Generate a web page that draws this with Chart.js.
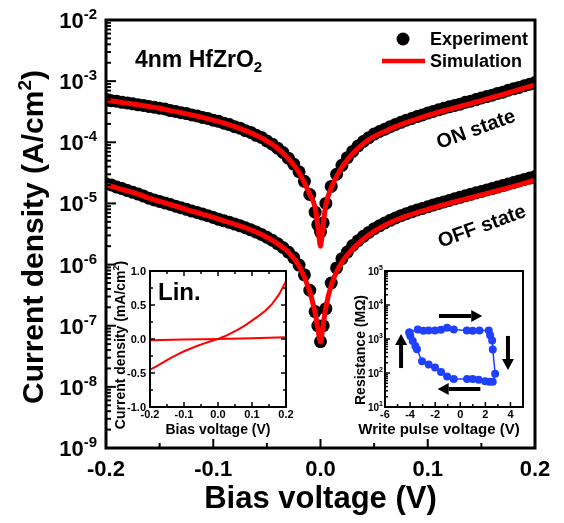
<!DOCTYPE html>
<html>
<head>
<meta charset="utf-8">
<script src="https://cdn.jsdelivr.net/npm/chart.js@4.4.1/dist/chart.umd.min.js"></script>
<style>
  html, body { margin: 0; padding: 0; background: #fff; }
  #wrap { position: relative; width: 564px; height: 523px; }
  #wrap canvas { position: absolute; }
</style>
</head>
<body>
<div id="wrap">
  <canvas id="main" width="564" height="523" style="left:0;top:0"></canvas>
  <canvas id="lin" width="210" height="195" style="left:90px;top:255px"></canvas>
  <canvas id="res" width="224" height="195" style="left:340px;top:255px"></canvas>
</div>
<script>
// J-V sweep, simulated curves (V, A/cm2)
const biasSim = [-0.2, -0.19, -0.18, -0.17, -0.16, -0.15, -0.14, -0.13, -0.12, -0.11, -0.1,
  -0.09, -0.08, -0.07, -0.06, -0.05, -0.04, -0.03, -0.02, -0.01, -0.005, -0.002, 0,
  0.002, 0.005, 0.01, 0.02, 0.03, 0.04, 0.05, 0.06, 0.07, 0.08, 0.09, 0.1,
  0.11, 0.12, 0.13, 0.14, 0.15, 0.16, 0.17, 0.18, 0.19, 0.2];
const onSim = [4.9e-4, 4.6e-4, 4.35e-4, 4.1e-4, 3.85e-4, 3.6e-4, 3.3e-4, 3.05e-4, 2.8e-4, 2.55e-4, 2.3e-4,
  2.05e-4, 1.8e-4, 1.55e-4, 1.3e-4, 1.05e-4, 8.0e-5, 5.4e-5, 3.2e-5, 1.4e-5, 8.5e-6, 3.6e-6, 2.0e-6,
  3.8e-6, 9.5e-6, 1.8e-5, 3.9e-5, 6.5e-5, 9.5e-5, 1.25e-4, 1.5e-4, 1.8e-4, 2.1e-4, 2.4e-4, 2.75e-4,
  3.1e-4, 3.45e-4, 3.85e-4, 4.3e-4, 4.8e-4, 5.4e-4, 6.05e-4, 6.8e-4, 7.7e-4, 8.7e-4];
const offSim = [2.0e-5, 1.8e-5, 1.6e-5, 1.42e-5, 1.22e-5, 1.08e-5, 9.6e-6, 8.5e-6, 7.5e-6, 6.7e-6, 5.9e-6,
  5.2e-6, 4.6e-6, 4.0e-6, 3.4e-6, 2.8e-6, 2.2e-6, 1.6e-6, 9.5e-7, 3.6e-7, 1.6e-7, 8.0e-8, 5.4e-8,
  9.0e-8, 2.0e-7, 4.6e-7, 1.1e-6, 1.8e-6, 2.6e-6, 3.5e-6, 4.4e-6, 5.3e-6, 6.2e-6, 7.1e-6, 8.0e-6,
  9.0e-6, 1.0e-5, 1.12e-5, 1.24e-5, 1.38e-5, 1.53e-5, 1.7e-5, 1.9e-5, 2.13e-5, 2.4e-5];

// measured points
const biasExp = [-0.2, -0.195, -0.19, -0.185, -0.18, -0.175, -0.17, -0.165, -0.16, -0.155,
  -0.15, -0.145, -0.14, -0.135, -0.13, -0.125, -0.12, -0.115, -0.11, -0.105,
  -0.1, -0.095, -0.09, -0.085, -0.08, -0.075, -0.07, -0.065, -0.06, -0.055,
  -0.05, -0.045, -0.04, -0.035, -0.03, -0.025, -0.02, -0.015, -0.01, -0.005,
  -0.0025, 0, 0.0025,
  0.005, 0.01, 0.015, 0.02, 0.025, 0.03, 0.035, 0.04, 0.045, 0.05,
  0.055, 0.06, 0.065, 0.07, 0.075, 0.08, 0.085, 0.09, 0.095, 0.1,
  0.105, 0.11, 0.115, 0.12, 0.125, 0.13, 0.135, 0.14, 0.145, 0.15,
  0.155, 0.16, 0.165, 0.17, 0.175, 0.18, 0.185, 0.19, 0.195, 0.2];
const onExp = [5.0e-4, 4.8e-4, 4.7e-4, 4.5e-4, 4.4e-4, 4.25e-4, 4.1e-4, 4.0e-4, 3.85e-4, 3.75e-4,
  3.6e-4, 3.5e-4, 3.3e-4, 3.2e-4, 3.05e-4, 2.95e-4, 2.8e-4, 2.7e-4, 2.55e-4, 2.45e-4,
  2.3e-4, 2.2e-4, 2.05e-4, 1.95e-4, 1.8e-4, 1.7e-4, 1.55e-4, 1.45e-4, 1.3e-4, 1.2e-4,
  1.05e-4, 9.3e-5, 8.0e-5, 6.8e-5, 5.5e-5, 4.4e-5, 3.3e-5, 2.3e-5, 1.4e-5, 7.2e-6,
  4.5e-6, 3.4e-6, 4.8e-6,
  1.0e-5, 1.9e-5, 3.0e-5, 4.2e-5, 5.6e-5, 7.1e-5, 8.7e-5, 1.03e-4, 1.19e-4, 1.36e-4,
  1.5e-4, 1.64e-4, 1.8e-4, 1.96e-4, 2.12e-4, 2.3e-4, 2.45e-4, 2.63e-4, 2.8e-4, 3.0e-4,
  3.2e-4, 3.4e-4, 3.6e-4, 3.8e-4, 4.0e-4, 4.2e-4, 4.5e-4, 4.7e-4, 5.0e-4, 5.3e-4,
  5.6e-4, 5.9e-4, 6.3e-4, 6.6e-4, 7.1e-4, 7.5e-4, 7.9e-4, 8.4e-4, 8.9e-4, 9.5e-4];
const offExp = [2.1e-5, 2.0e-5, 1.85e-5, 1.75e-5, 1.62e-5, 1.52e-5, 1.42e-5, 1.32e-5, 1.22e-5, 1.14e-5,
  1.08e-5, 1.02e-5, 9.6e-6, 9.0e-6, 8.5e-6, 8.0e-6, 7.5e-6, 7.1e-6, 6.7e-6, 6.3e-6,
  5.9e-6, 5.5e-6, 5.2e-6, 4.9e-6, 4.6e-6, 4.3e-6, 4.0e-6, 3.7e-6, 3.4e-6, 3.1e-6,
  2.8e-6, 2.5e-6, 2.2e-6, 1.9e-6, 1.6e-6, 1.3e-6, 9.8e-7, 6.8e-7, 3.8e-7, 1.7e-7,
  1.0e-7, 5.5e-8, 1.0e-7,
  1.9e-7, 5.0e-7, 8.8e-7, 1.25e-6, 1.6e-6, 2.05e-6, 2.45e-6, 2.9e-6, 3.35e-6, 3.85e-6,
  4.3e-6, 4.8e-6, 5.3e-6, 5.8e-6, 6.3e-6, 6.8e-6, 7.3e-6, 7.8e-6, 8.3e-6, 8.8e-6,
  9.4e-6, 1.0e-5, 1.06e-5, 1.12e-5, 1.19e-5, 1.26e-5, 1.33e-5, 1.41e-5, 1.49e-5, 1.57e-5,
  1.66e-5, 1.75e-5, 1.85e-5, 1.96e-5, 2.08e-5, 2.2e-5, 2.33e-5, 2.47e-5, 2.6e-5, 2.75e-5];

const biasTicks = [-0.2, -0.1, 0, 0.1, 0.2];
const biasMinor = [-0.15, -0.05, 0.05, 0.15];
const decades = [-9, -8, -7, -6, -5, -4, -3, -2];

// linear inset (mA/cm2)
const linBias = [-0.2, -0.18, -0.16, -0.14, -0.12, -0.1, -0.08, -0.06, -0.04, -0.02, 0,
  0.02, 0.04, 0.06, 0.08, 0.1, 0.12, 0.14, 0.16, 0.18, 0.2];
const linOn = [-0.45, -0.40, -0.34, -0.28, -0.23, -0.18, -0.14, -0.10, -0.065, -0.03, 0,
  0.04, 0.09, 0.14, 0.20, 0.27, 0.34, 0.42, 0.52, 0.66, 0.85];
const linOffBias = [-0.2, -0.1, 0, 0.1, 0.2];
const linOff = [-0.02, -0.008, 0, 0.01, 0.025];
const linYTicks = [-1, -0.5, 0, 0.5, 1];
const linYMinor = [-0.75, -0.25, 0.25, 0.75];

// resistance loop inset (write pulse V, MOhm)
const pulseV = [-4.06, -3.39, -2.94, -2.52, -2.01, -1.53, -1.05, -0.52, 0.52, 0.99, 1.53, 2.27,
  2.38, 2.54, 2.59, 2.78, 2.59, 2.32, 1.98, 1.47, 0.99, 0.54, -0.52, -1.05, -1.53, -2.01,
  -2.52, -3.05, -3.45, -3.58, -3.79, -3.98, -4.06];
const resistance = [1550, 1910, 1740, 1790, 1790, 1860, 2150, 1910, 1790, 1740, 1790, 1790,
  1290, 910, 490, 95, 55, 55, 57, 63, 67, 67, 67, 79, 107, 144,
  178, 220, 500, 620, 870, 1230, 1550];
const pulseTicks = [-6, -4, -2, 0, 2, 4];
const pulseMinor = [-5, -3, -1, 1, 3, 5];
const resDecades = [1, 2, 3, 4, 5];

const FONT = '"Liberation Sans", Arial, Helvetica, sans-serif';
const RED = '#ff0000';
const BLUE = '#2040ff';
const bold = size => `bold ${size}px ${FONT}`;
const pts = (xs, ys) => xs.map((x, i) => ({ x, y: ys[i] }));

function line(ctx, x1, y1, x2, y2) {
  ctx.beginPath(); ctx.moveTo(x1, y1); ctx.lineTo(x2, y2); ctx.stroke();
}

// draws a row of text runs (for superscripts/subscripts) anchored at the baseline
function textRuns(ctx, runs, x, y, align, angle) {
  ctx.save();
  ctx.translate(x, y);
  ctx.rotate(angle || 0);
  let total = 0;
  for (const r of runs) { ctx.font = bold(r.size); r.w = ctx.measureText(r.t).width; total += r.w; }
  let cx = align === 'center' ? -total / 2 : align === 'right' ? -total : 0;
  ctx.textAlign = 'left';
  ctx.textBaseline = 'alphabetic';
  for (const r of runs) { ctx.font = bold(r.size); ctx.fillText(r.t, cx, r.dy || 0); cx += r.w; }
  ctx.restore();
}

function arrow(ctx, x1, y1, x2, y2) {
  const ang = Math.atan2(y2 - y1, x2 - x1), head = 11, half = 6;
  const bx = x2 - head * Math.cos(ang), by = y2 - head * Math.sin(ang);
  ctx.lineWidth = 4;
  line(ctx, x1, y1, bx, by);
  ctx.beginPath();
  ctx.moveTo(x2, y2);
  ctx.lineTo(bx + half * Math.sin(ang), by - half * Math.cos(ang));
  ctx.lineTo(bx - half * Math.sin(ang), by + half * Math.cos(ang));
  ctx.closePath();
  ctx.fill();
}

const whiteArea = {
  id: 'whiteArea',
  beforeDatasetsDraw(chart) {
    const { ctx, chartArea: a } = chart;
    ctx.save();
    ctx.fillStyle = '#fff';
    ctx.fillRect(a.left, a.top, a.right - a.left, a.bottom - a.top);
    ctx.restore();
  }
};

const mainAxes = {
  id: 'mainAxes',
  afterDraw(chart) {
    const { ctx, chartArea: a, scales: { x, y } } = chart;
    ctx.save();
    ctx.strokeStyle = '#000';
    ctx.fillStyle = '#000';
    ctx.lineWidth = 2;
    biasTicks.forEach(v => { const px = x.getPixelForValue(v); line(ctx, px, a.bottom, px, a.bottom - 9); });
    biasMinor.forEach(v => { const px = x.getPixelForValue(v); line(ctx, px, a.bottom, px, a.bottom - 5); });
    decades.forEach((d, i) => {
      const py = y.getPixelForValue(Math.pow(10, d));
      line(ctx, a.left, py, a.left + 10, py);
      if (i < decades.length - 1) {
        for (let m = 2; m < 10; m++) {
          const pm = y.getPixelForValue(m * Math.pow(10, d));
          line(ctx, a.left, pm, a.left + 5, pm);
        }
      }
    });
    ctx.lineWidth = 3;
    ctx.strokeRect(a.left, a.top, a.right - a.left, a.bottom - a.top);

    biasTicks.forEach(v => textRuns(ctx, [{ t: v.toFixed(1), size: 22 }], x.getPixelForValue(v), a.bottom + 28, 'center'));
    decades.forEach(d => {
      const py = y.getPixelForValue(Math.pow(10, d));
      textRuns(ctx, [{ t: '10', size: 22 }, { t: String(d), size: 15, dy: -9 }], a.left - 9, py + 8, 'right');
    });
    textRuns(ctx, [{ t: 'Bias voltage (V)', size: 31 }], (a.left + a.right) / 2, 508, 'center');
    textRuns(ctx, [{ t: 'Current density (A/cm', size: 30 }, { t: '2', size: 19, dy: -12 }, { t: ')', size: 30 }],
      43, 237, 'center', -Math.PI / 2);

    textRuns(ctx, [{ t: '4nm HfZrO', size: 23 }, { t: '2', size: 15, dy: 5 }], 135, 67, 'left');
    textRuns(ctx, [{ t: 'ON state', size: 20 }], 478, 135, 'center', -0.35);
    textRuns(ctx, [{ t: 'OFF state', size: 20 }], 484, 232, 'center', -0.35);

    // legend
    ctx.beginPath();
    ctx.arc(403, 39, 6.5, 0, Math.PI * 2);
    ctx.fill();
    textRuns(ctx, [{ t: 'Experiment', size: 18 }], 430, 45, 'left');
    ctx.strokeStyle = RED;
    ctx.lineWidth = 4.5;
    line(ctx, 382, 61, 425, 61);
    textRuns(ctx, [{ t: 'Simulation', size: 18 }], 430, 67, 'left');
    ctx.restore();
  }
};

const linAxes = {
  id: 'linAxes',
  afterDraw(chart) {
    const { ctx, chartArea: a, scales: { x, y } } = chart;
    ctx.save();
    ctx.strokeStyle = '#000';
    ctx.fillStyle = '#000';
    ctx.lineWidth = 1.5;
    biasTicks.forEach(v => {
      const px = x.getPixelForValue(v);
      line(ctx, px, a.bottom, px, a.bottom - 5); line(ctx, px, a.top, px, a.top + 5);
    });
    biasMinor.forEach(v => {
      const px = x.getPixelForValue(v);
      line(ctx, px, a.bottom, px, a.bottom - 3); line(ctx, px, a.top, px, a.top + 3);
    });
    linYTicks.forEach(v => {
      const py = y.getPixelForValue(v);
      line(ctx, a.left, py, a.left + 5, py); line(ctx, a.right, py, a.right - 5, py);
    });
    linYMinor.forEach(v => {
      const py = y.getPixelForValue(v);
      line(ctx, a.left, py, a.left + 3, py); line(ctx, a.right, py, a.right - 3, py);
    });
    ctx.lineWidth = 2;
    ctx.strokeRect(a.left, a.top, a.right - a.left, a.bottom - a.top);

    linYTicks.forEach(v => textRuns(ctx, [{ t: v.toFixed(1), size: 11 }], a.left - 4, y.getPixelForValue(v) + 4, 'right'));
    biasTicks.forEach(v => textRuns(ctx, [{ t: v.toFixed(1), size: 11 }], x.getPixelForValue(v), a.bottom + 11, 'center'));
    textRuns(ctx, [{ t: 'Bias voltage (V)', size: 14 }], (a.left + a.right) / 2, a.bottom + 27, 'center');
    textRuns(ctx, [{ t: 'Current density (mA/cm', size: 14 }, { t: '2', size: 9, dy: -6 }, { t: ')', size: 14 }],
      a.left - 25, a.top + 74, 'center', -Math.PI / 2);
    textRuns(ctx, [{ t: 'Lin.', size: 24 }], a.left + 8, a.top + 29, 'left');
    ctx.restore();
  }
};

// sweep direction arrows around the loop: [V1, R1, V2, R2]
const loopArrows = [[-1.7, 4750, 1.75, 4750], [3.8, 1230, 3.8, 123], [1.6, 34, -1.8, 34], [-4.72, 140, -4.72, 1400]];

const resAxes = {
  id: 'resAxes',
  afterDraw(chart) {
    const { ctx, chartArea: a, scales: { x, y } } = chart;
    ctx.save();
    ctx.strokeStyle = '#000';
    ctx.fillStyle = '#000';
    ctx.lineWidth = 1.5;
    pulseTicks.forEach(v => { const px = x.getPixelForValue(v); line(ctx, px, a.bottom, px, a.bottom - 5); });
    pulseMinor.forEach(v => { const px = x.getPixelForValue(v); line(ctx, px, a.bottom, px, a.bottom - 3); });
    resDecades.forEach((d, i) => {
      const py = y.getPixelForValue(Math.pow(10, d));
      line(ctx, a.left, py, a.left + 5, py);
      if (i < resDecades.length - 1) {
        for (let m = 2; m < 10; m++) {
          const pm = y.getPixelForValue(m * Math.pow(10, d));
          line(ctx, a.left, pm, a.left + 3, pm);
        }
      }
    });
    ctx.lineWidth = 2;
    ctx.strokeRect(a.left, a.top, a.right - a.left, a.bottom - a.top);

    loopArrows.forEach(([v1, r1, v2, r2]) =>
      arrow(ctx, x.getPixelForValue(v1), y.getPixelForValue(r1), x.getPixelForValue(v2), y.getPixelForValue(r2)));

    resDecades.forEach(d => {
      const py = y.getPixelForValue(Math.pow(10, d));
      textRuns(ctx, [{ t: '10', size: 10 }, { t: String(d), size: 7, dy: -5 }], a.left - 2, py + 4, 'right');
    });
    pulseTicks.forEach(v => textRuns(ctx, [{ t: String(v), size: 11 }], x.getPixelForValue(v), a.bottom + 11, 'center'));
    textRuns(ctx, [{ t: 'Write pulse voltage (V)', size: 15 }], (a.left + a.right) / 2 - 15, a.bottom + 27, 'center');
    textRuns(ctx, [{ t: 'Resistance (MΩ)', size: 14 }], a.left - 20, a.top + 79, 'center', -Math.PI / 2);
    ctx.restore();
  }
};

const baseOptions = {
  responsive: false,
  animation: false,
  devicePixelRatio: 1,
  plugins: { legend: { display: false }, tooltip: { enabled: false } }
};

new Chart(document.getElementById('main'), {
  type: 'line',
  data: {
    datasets: [
      { label: 'Simulation', data: pts(biasSim, onSim), borderColor: RED, borderWidth: 5, pointRadius: 0,
        cubicInterpolationMode: 'monotone', borderCapStyle: 'round', borderJoinStyle: 'round', order: 1, clip: 0 },
      { label: 'Simulation', data: pts(biasSim, offSim), borderColor: RED, borderWidth: 5, pointRadius: 0,
        cubicInterpolationMode: 'monotone', borderCapStyle: 'round', borderJoinStyle: 'round', order: 1, clip: 0 },
      { label: 'Experiment', data: pts(biasExp, onExp), showLine: false, pointRadius: 6.5, borderColor: '#000',
        pointBackgroundColor: '#000', pointBorderWidth: 0, order: 2, clip: 0 },
      { label: 'Experiment', data: pts(biasExp, offExp), showLine: false, pointRadius: 6.5, borderColor: '#000',
        pointBackgroundColor: '#000', pointBorderWidth: 0, order: 2, clip: 0 }
    ]
  },
  options: {
    ...baseOptions,
    layout: { padding: { left: 106, top: 20, right: 29, bottom: 75 } },
    scales: {
      x: { type: 'linear', min: -0.2, max: 0.2, display: false },
      y: { type: 'logarithmic', min: 1e-9, max: 1e-2, display: false }
    }
  },
  plugins: [mainAxes]
});

new Chart(document.getElementById('lin'), {
  type: 'line',
  data: {
    datasets: [
      { data: pts(linBias, linOn), borderColor: RED, borderWidth: 2, pointRadius: 0 },
      { data: pts(linOffBias, linOff), borderColor: RED, borderWidth: 2, pointRadius: 0 }
    ]
  },
  options: {
    ...baseOptions,
    layout: { padding: { left: 60, top: 16, right: 14, bottom: 43 } },
    scales: {
      x: { type: 'linear', min: -0.2, max: 0.2, display: false },
      y: { type: 'linear', min: -1, max: 1, display: false }
    }
  },
  plugins: [whiteArea, linAxes]
});

new Chart(document.getElementById('res'), {
  type: 'line',
  data: {
    datasets: [
      { data: pts(pulseV, resistance), borderColor: BLUE, borderWidth: 1.5, pointRadius: 4,
        pointBackgroundColor: BLUE, pointBorderWidth: 0, tension: 0 }
    ]
  },
  options: {
    ...baseOptions,
    layout: { padding: { left: 45, top: 16, right: 41, bottom: 43 } },
    scales: {
      x: { type: 'linear', min: -6, max: 5, display: false },
      y: { type: 'logarithmic', min: 10, max: 1e5, display: false }
    }
  },
  plugins: [whiteArea, resAxes]
});
</script>
</body>
</html>
